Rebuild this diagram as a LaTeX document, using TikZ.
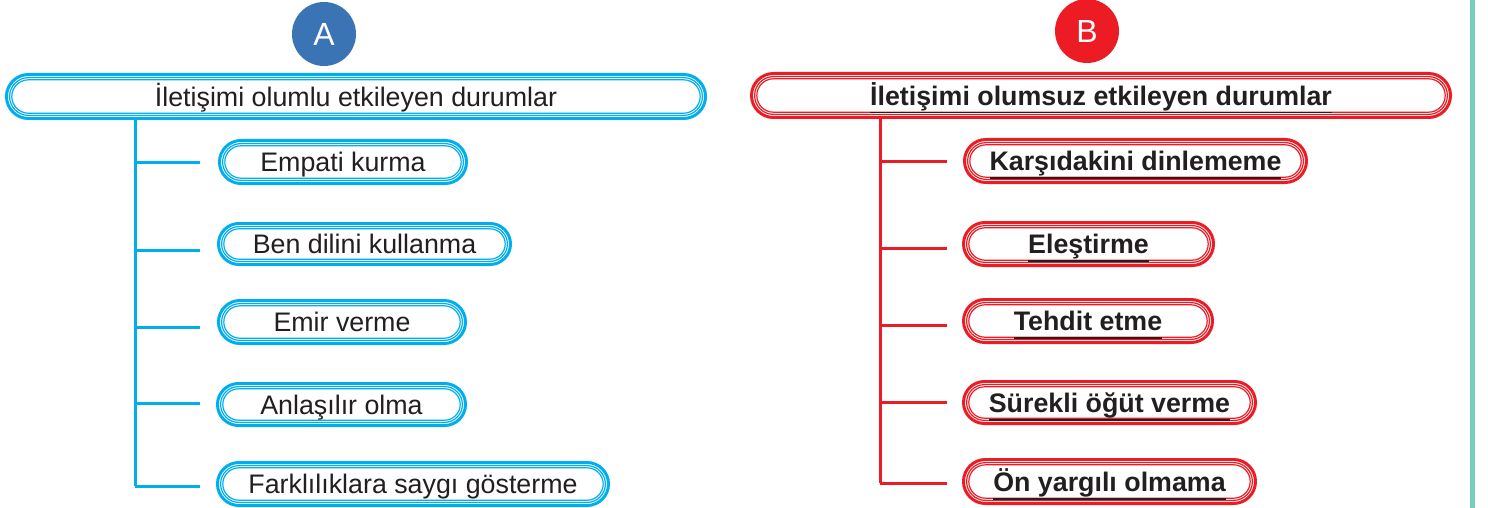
\documentclass[tikz,border=0pt]{standalone}
\usepackage{fontspec}
\setmainfont{Liberation Sans}
\usetikzlibrary{calc}
\definecolor{cblue}{RGB}{0,174,239}
\definecolor{cred}{RGB}{237,28,36}
\definecolor{cA}{RGB}{58,116,180}
\definecolor{ink}{RGB}{35,31,32}
\definecolor{cteal}{RGB}{120,206,188}
\tikzset{
  capbox/.style={shape=rectangle, draw=none, inner sep=0pt, outer sep=0pt},
  captext/.style={anchor=base, inner sep=0pt, outer sep=0pt, text=ink},
  regtext/.style={font=\fontsize{26.8}{30}\selectfont},
  boldtext/.style={font=\fontsize{26.8}{30}\selectfont\bfseries},
  bluetrunk/.style={cblue, line width=3pt},
  redtrunk/.style={cred, line width=3pt},
  uline/.style={ink, line width=1.6pt},
  badge/.style={circle, inner sep=0pt, minimum size=64pt, text=white, font=\fontsize{32}{36}\selectfont},
}
% name, x1, y1, x2, y2, colour, text style, text
\newcommand\capsule[8]{%
  \pgfmathsetmacro\capH{#5-#3}%
  \pgfmathsetmacro\capW{#4-#2}%
  \pgfmathsetmacro\rA{\capH/2-1.5}%
  \pgfmathsetmacro\rB{\capH/2-4.6}%
  \pgfmathsetmacro\rC{\capH/2-6.8}%
  \pgfmathsetmacro\capCx{(#2+#4)/2}%
  \pgfmathsetmacro\capCy{(#3+#5)/2}%
  \node[capbox, minimum width=\capW pt, minimum height=\capH pt] (#1) at (\capCx,\capCy) {};
  \draw[#6, line width=3pt, rounded corners=\rA pt] (#2+1.5,#3+1.5) rectangle (#4-1.5,#5-1.5);
  \draw[#6, line width=1.2pt, rounded corners=\rB pt] (#2+4.6,#3+4.6) rectangle (#4-4.6,#5-4.6);
  \draw[#6, line width=1.2pt, rounded corners=\rC pt] (#2+6.8,#3+6.8) rectangle (#4-6.8,#5-6.8);
  \node[captext, #7] (#1-t) at (\capCx,\capCy+9.7) {#8};
}
\newcommand\redul[1]{%
  \draw[uline] ([yshift=-7.5pt]#1-t.base west) -- ([yshift=-7.5pt]#1-t.base east);
}
\begin{document}
\begin{tikzpicture}[x=1pt, y=-1pt]
\useasboundingbox (0,0) rectangle (1488,508);
\fill[white] (0,0) rectangle (1488,508);
% right teal rule
\fill[cteal] (1470,0) rectangle (1475,508);

% ---------- A ----------
\node[badge, fill=cA] (badgeA) at (324,34) {A};
\capsule{bm}{5}{73}{707}{120}{cblue}{regtext}{İletişimi olumlu etkileyen durumlar}
\capsule{b1}{218}{139}{468}{185}{cblue}{regtext}{Empati kurma}
\capsule{b2}{217}{222}{512}{266}{cblue}{regtext}{Ben dilini kullanma}
\capsule{b3}{217}{299}{467}{345}{cblue}{regtext}{Emir verme}
\capsule{b4}{216}{382}{467}{427}{cblue}{regtext}{Anlaşılır olma}
\capsule{b5}{216}{461}{610}{507}{cblue}{regtext}{Farklılıklara saygı gösterme}

\coordinate (aend) at (135,486);
\coordinate (a1) at (200,162);
\coordinate (a2) at (200,250);
\coordinate (a3) at (200,327);
\coordinate (a4) at (200,403);
\coordinate (a5) at (200,486);
\draw[bluetrunk] (bm.south -| aend) -- (aend);
\foreach \k in {1,...,5} {\draw[bluetrunk] (aend |- a\k) -- (a\k);}

% ---------- B ----------
\node[badge, fill=cred] (badgeB) at (1087,31) {B};
\capsule{rm}{750}{72}{1452}{119}{cred}{boldtext}{İletişimi olumsuz etkileyen durumlar}
\capsule{r1}{963}{138}{1308}{184}{cred}{boldtext}{Karşıdakini dinlememe}
\capsule{r2}{962}{221}{1215}{267}{cred}{boldtext}{Eleştirme}
\capsule{r3}{962}{298}{1214}{344}{cred}{boldtext}{Tehdit etme}
\capsule{r4}{962}{380}{1257}{425}{cred}{boldtext}{Sürekli öğüt verme}
\capsule{r5}{962}{458}{1257}{505}{cred}{boldtext}{Ön yargılı olmama}
\redul{rm}\redul{r1}\redul{r2}\redul{r3}\redul{r4}\redul{r5}

\coordinate (bend) at (880,483);
\coordinate (c1) at (947,161);
\coordinate (c2) at (947,248);
\coordinate (c3) at (947,325);
\coordinate (c4) at (947,402);
\coordinate (c5) at (947,483);
\draw[redtrunk] (rm.south -| bend) -- (bend);
\foreach \k in {1,...,5} {\draw[redtrunk] (bend |- c\k) -- (c\k);}
\end{tikzpicture}
\end{document}
